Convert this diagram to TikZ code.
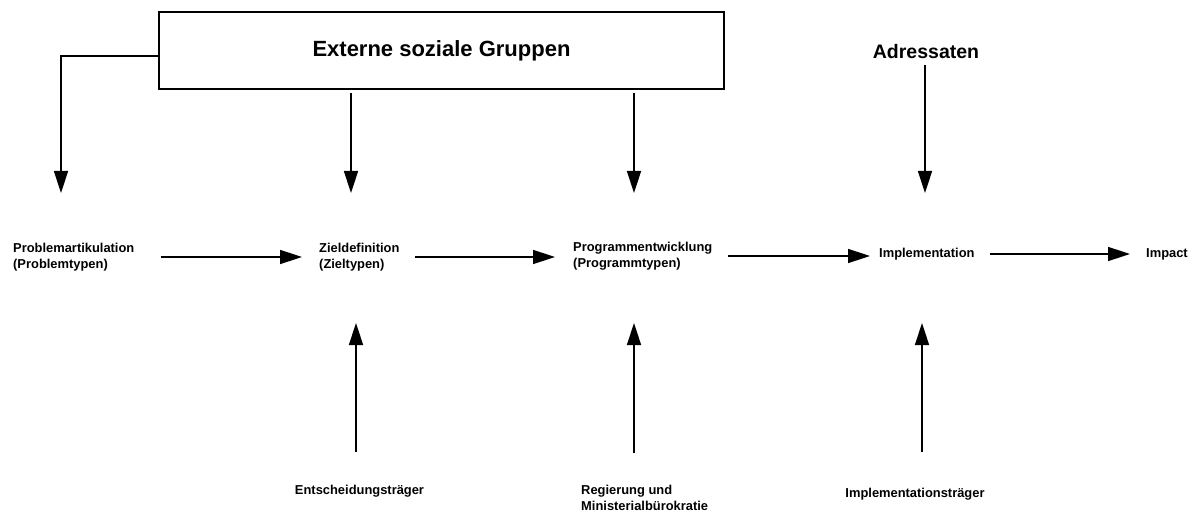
\documentclass[tikz,border=0pt]{standalone}
\usepackage{fontspec}
\setmainfont{Liberation Sans}
\usetikzlibrary{arrows.meta,positioning}

\begin{document}
\begin{tikzpicture}[
  x=1pt, y=-1pt,
  >={Triangle[length=22pt,width=14pt]},
  every node/.style={font=\bfseries\fontsize{12.9}{15.5}\selectfont, inner sep=2pt},
  box/.style={draw, line width=1.6pt, minimum width=565pt, minimum height=77pt},
  lbl/.style={anchor=west, align=left},
  flow/.style={->, line width=1.5pt}
]
  \useasboundingbox (0,0) rectangle (1199,513);

  \node[box, font=\bfseries\fontsize{22}{26}\selectfont] (ext) at (441.5,50.5)
    {Externe soziale Gruppen};
  \node[font=\bfseries\fontsize{19.5}{23}\selectfont] (adr) at (926,51.5) {Adressaten};

  % Phasen
  \node[lbl] (prob) at (11,257) {Problemartikulation\\(Problemtypen)};
  \node[lbl] (ziel) at (317,257) {Zieldefinition\\(Zieltypen)};
  \node[lbl] (prog) at (571,256) {Programmentwicklung\\(Programmtypen)};
  \node[lbl] (impl) at (877,254) {Implementation};
  \node[lbl] (imp) at (1144,254) {Impact};

  % Akteure
  \node (ent) at (359.5,491) {Entscheidungstr\"ager};
  \node[lbl] (reg) at (579,498) {Regierung und\\Ministerialb\"urokratie};
  \node (itr) at (915,494) {Implementationstr\"ager};

  \coordinate (probin) at (61,193);
  \coordinate (zielin) at (351,193);
  \coordinate (progin) at (634,193);
  \coordinate (implin) at (925,193);
  \coordinate (zielup) at (356,323);
  \coordinate (progup) at (634,323);
  \coordinate (implup) at (922,323);

  \draw[flow, shorten <=24pt, shorten >=15pt] (prob.east) -- (prob.east -| ziel.west);
  \draw[flow, shorten <=13pt, shorten >=16pt] (ziel.east) -- (ziel.east -| prog.west);
  \draw[flow, shorten <=14pt, shorten >=7pt] (prog.east) -- (prog.east -| impl.west);
  \draw[flow, shorten <=13pt, shorten >=14pt] (impl.east) -- (imp.west);

  \draw[flow] ([yshift=-5.5pt]ext.west) -| (probin);
  \draw[flow, shorten <=3pt] (ext.south -| zielin) -- (zielin);
  \draw[flow, shorten <=3pt] (ext.south -| progin) -- (progin);
  \draw[flow, shorten <=4.5pt] (adr.south -| implin) -- (implin);

  \draw[flow, shorten <=31pt] (ent.north -| zielup) -- (zielup);
  \draw[flow, shorten <=30pt] (reg.north -| progup) -- (progup);
  \draw[flow, shorten <=34pt] (itr.north -| implup) -- (implup);
\end{tikzpicture}
\end{document}
